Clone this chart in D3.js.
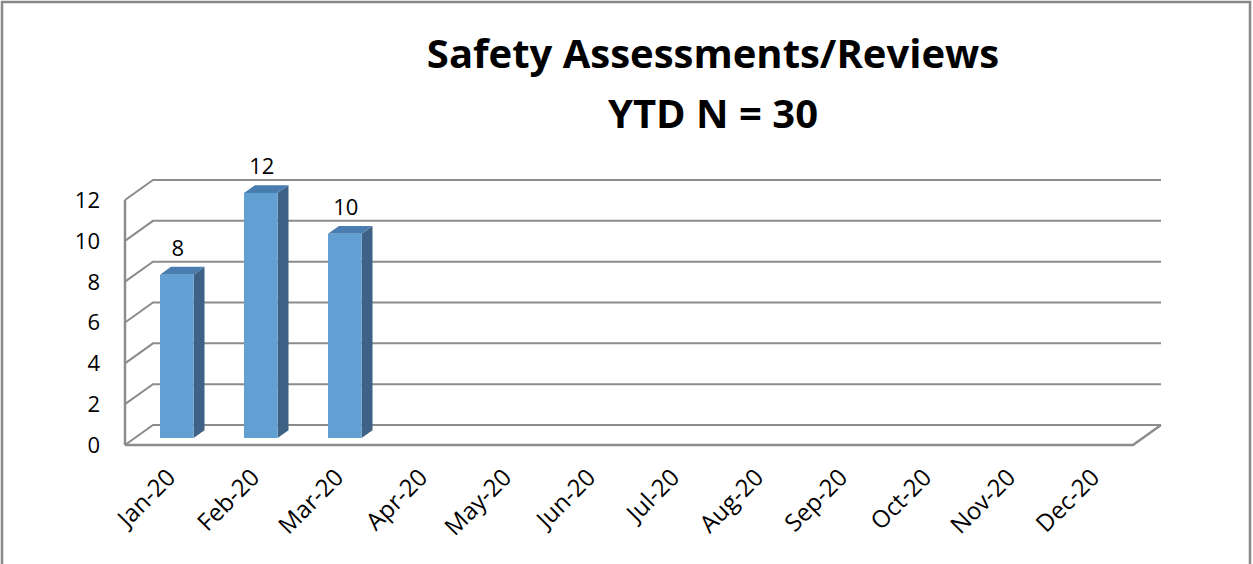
<!DOCTYPE html>
<html><head><meta charset="utf-8">
<script src="https://cdn.jsdelivr.net/npm/d3@7"></script>
<style>body{margin:0;background:#fff}svg{display:block}</style>
</head><body>
<script>
const months = ["Jan-20","Feb-20","Mar-20","Apr-20","May-20","Jun-20","Jul-20","Aug-20","Sep-20","Oct-20","Nov-20","Dec-20"];
const values = [8,12,10,null,null,null,null,null,null,null,null,null];
const yTicks = [0,2,4,6,8,10,12];
const titleLines = ["Safety Assessments/Reviews","YTD N = 30"];

const W=1253,H=564;
const svg=d3.select("body").append("svg").attr("width",W).attr("height",H);
svg.append("rect").attr("x",2).attr("y",2).attr("width",1248).attr("height",H+10)
  .attr("fill","#fff").attr("stroke","#888").attr("stroke-width",2.5);

const x0=125, yBase=445, DX=28, DY=20, plotW=1008;
const x=d3.scaleBand().domain(months).range([0,plotW]).paddingInner(0.6).paddingOuter(0.3);
const h=d3.scaleLinear().domain([0,12]).range([0,245]);
const P=(xf,v,d)=>[x0+xf+d*DX, yBase-h(v)-d*DY];
const line=d3.line();
const grid="#8c8c8c";
const FONT="Open Sans, sans-serif";

const g=svg.append("g");
yTicks.forEach(t=>{
  g.append("path").attr("d",line([P(0,t,0),P(0,t,1),P(plotW,t,1)])).attr("fill","none").attr("stroke",grid).attr("stroke-width",2);
});
g.append("path").attr("d",line([P(0,12,0),P(0,0,0)])).attr("stroke",grid).attr("stroke-width",2.5).attr("fill","none");
g.append("path").attr("d",line([P(0,0,0),P(plotW,0,0),P(plotW,0,1)])).attr("stroke",grid).attr("stroke-width",2.5).attr("fill","none");

svg.append("g").selectAll("text").data(yTicks).join("text")
  .attr("x",100).attr("y",d=>P(0,d,0)[1]).attr("dy","0.36em").attr("text-anchor","end")
  .attr("font-family",FONT).attr("font-size",22).attr("fill","#000").text(d=>d);

const d1=0.35,d2=0.74;
const bars=months.map((m,i)=>({m,v:values[i]})).filter(d=>d.v!=null);
const bg=svg.append("g");
bars.forEach(b=>{
  const xa=x(b.m), xb=x(b.m)+x.bandwidth();
  const front=[P(xa,0,d1),P(xb,0,d1),P(xb,b.v,d1),P(xa,b.v,d1)];
  const side=[P(xb,0,d1),P(xb,0,d2),P(xb,b.v,d2),P(xb,b.v,d1)];
  const top=[P(xa,b.v,d1),P(xb,b.v,d1),P(xb,b.v,d2),P(xa,b.v,d2)];
  bg.append("path").attr("d",line(side)+"Z").attr("fill","#3e6286");
  bg.append("path").attr("d",line(top)+"Z").attr("fill","#4a7daf");
  bg.append("path").attr("d",line(front)+"Z").attr("fill","#629fd3");
  const c=P((xa+xb)/2,b.v,d1);
  bg.append("text").attr("x",c[0]+1).attr("y",c[1]-19).attr("text-anchor","middle")
    .attr("font-family",FONT).attr("font-size",22).text(b.v);
});

svg.append("g").selectAll("text").data(months).join("text")
  .attr("transform",d=>{const p=P(x(d)+x.bandwidth()/2,0,0);return `translate(${p[0]+4},${p[1]+28}) rotate(-45)`;})
  .attr("text-anchor","end").attr("dy","0.35em")
  .attr("font-family",FONT).attr("font-size",24).text(d=>d);

svg.append("g").selectAll("text").data(titleLines).join("text")
  .attr("x",713).attr("y",(d,i)=>68+i*60).attr("text-anchor","middle")
  .attr("font-family",FONT).attr("font-weight","bold").attr("font-size",40).text(d=>d);
</script>
</body></html>
